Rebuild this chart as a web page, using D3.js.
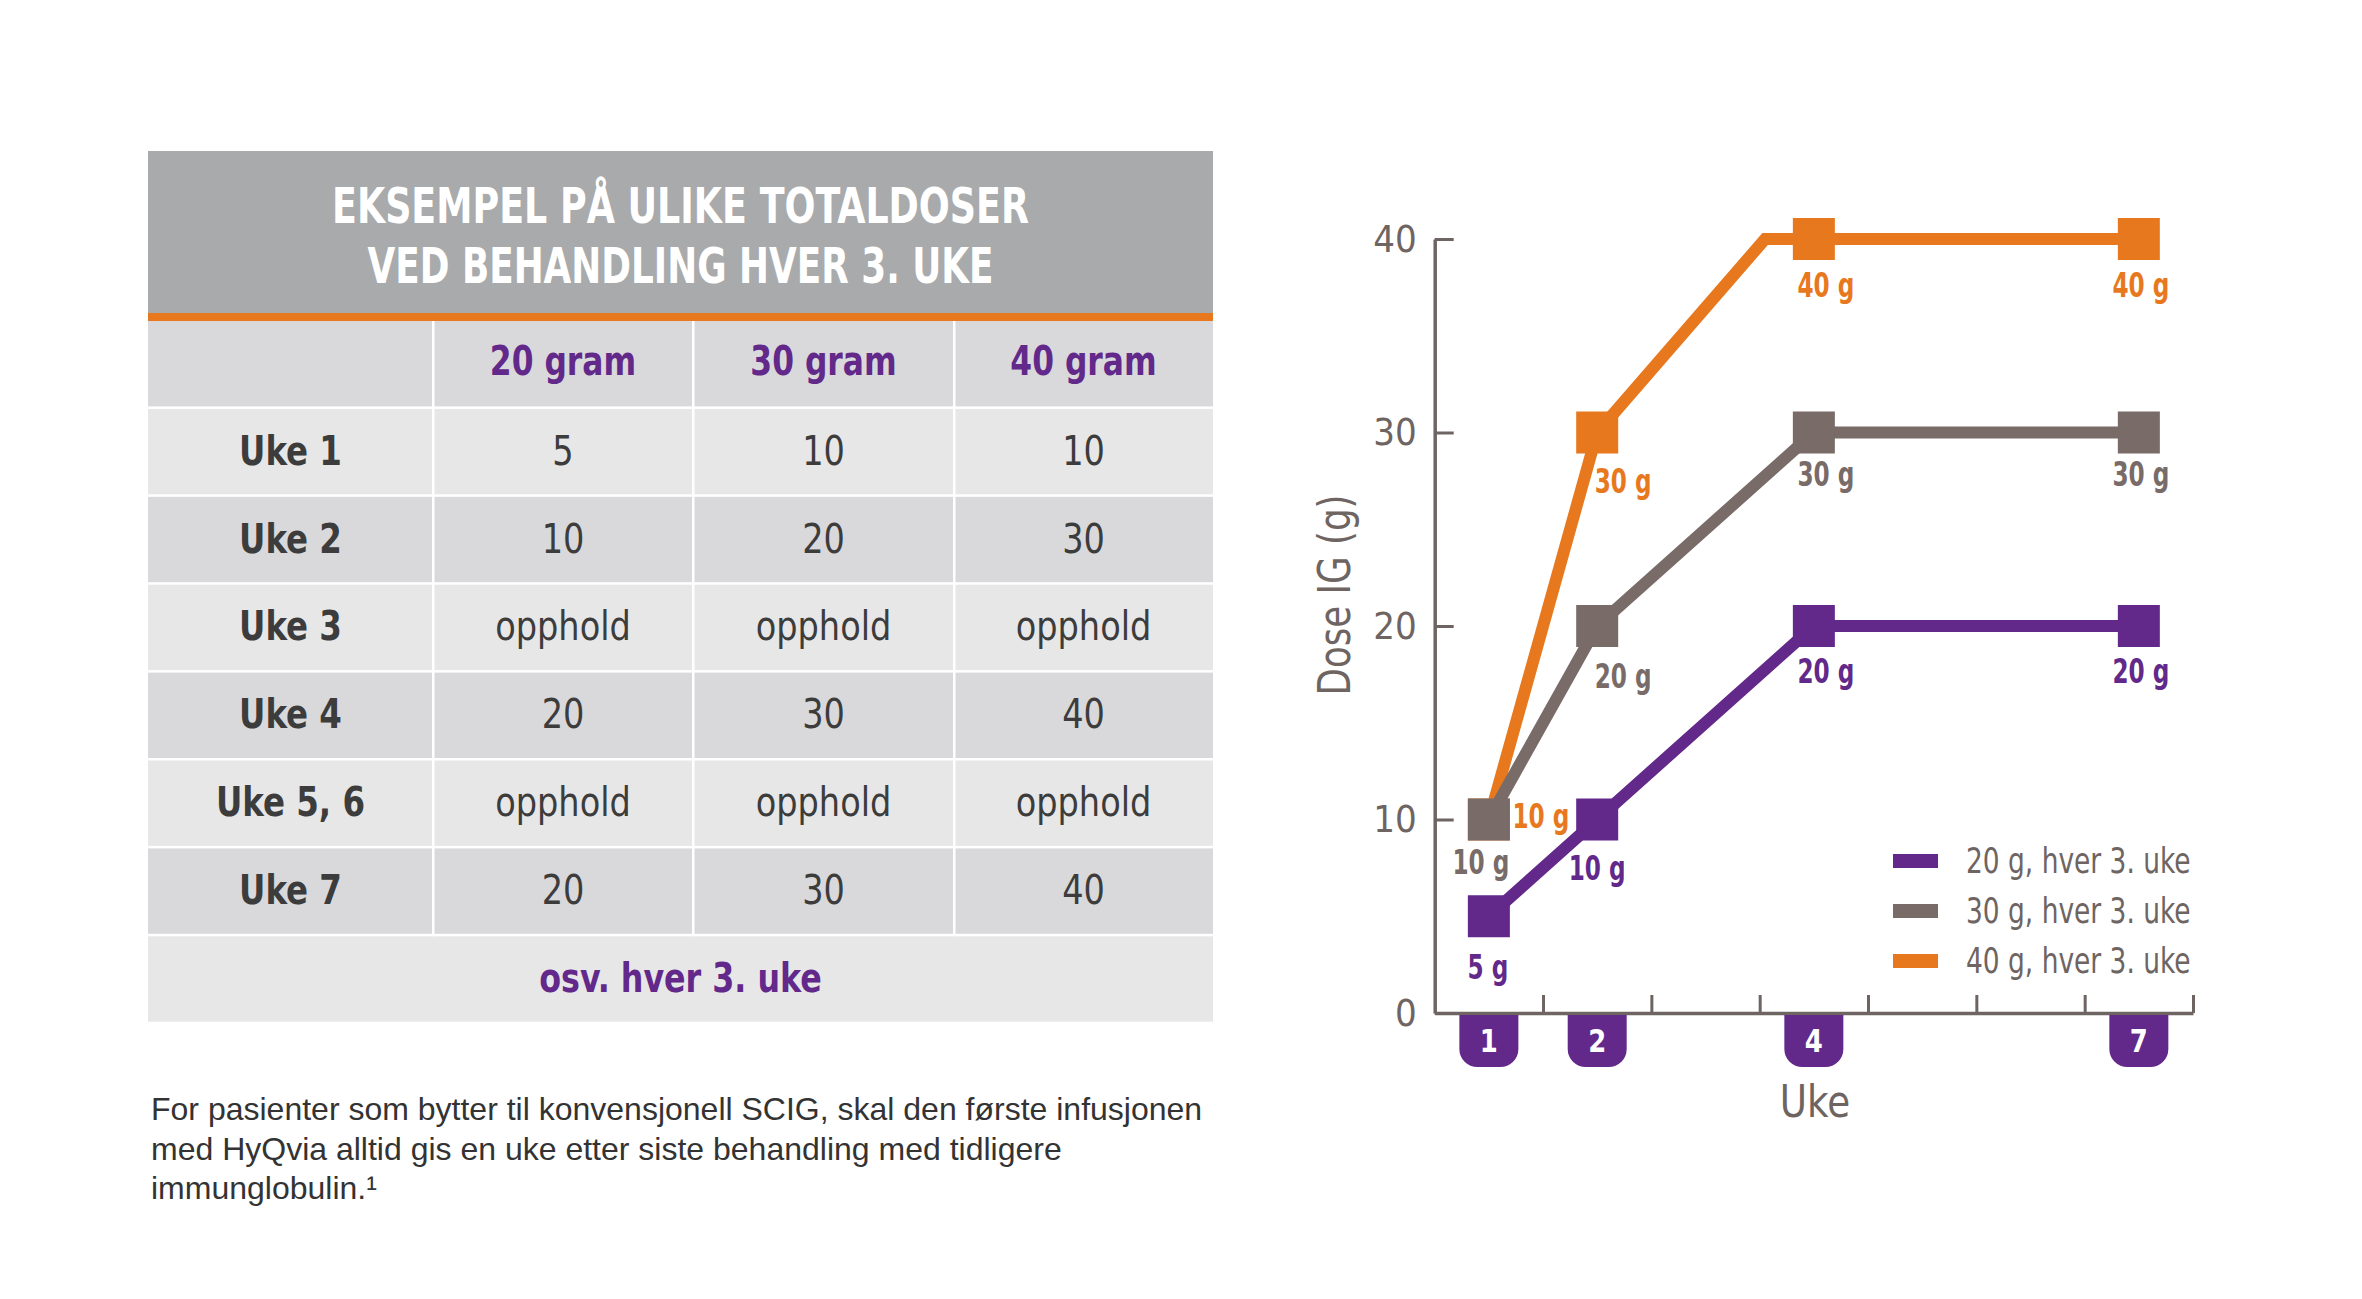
<!DOCTYPE html>
<html><head><meta charset="utf-8">
<script src="https://cdn.jsdelivr.net/npm/d3@7"></script>
<style>html,body{margin:0;padding:0;background:#fff;} svg{display:block}</style>
</head><body>
<svg id="c" width="2362" height="1299"></svg>
<script>
// ---------- DATA ----------
const tableTitle = ["EKSEMPEL PÅ ULIKE TOTALDOSER", "VED BEHANDLING HVER 3. UKE"];
const tableColumns = ["20 gram", "30 gram", "40 gram"];
const tableRowLabels = ["Uke 1", "Uke 2", "Uke 3", "Uke 4", "Uke 5, 6", "Uke 7"];
const col20 = ["5", "10", "opphold", "20", "opphold", "20"];
const col30 = ["10", "20", "opphold", "30", "opphold", "30"];
const col40 = ["10", "30", "opphold", "40", "opphold", "40"];
const tableFooter = "osv. hver 3. uke";
const footnote = [
  "For pasienter som bytter til konvensjonell SCIG, skal den første infusjonen",
  "med HyQvia alltid gis en uke etter siste behandling med tidligere",
  "immunglobulin.\u00b9"
];

const weeks = [1, 2, 4, 7];
const seriesNames = ["20 g, hver 3. uke", "30 g, hver 3. uke", "40 g, hver 3. uke"];
const dose20 = [5, 10, 20, 20];
const dose30 = [10, 20, 30, 30];
const dose40 = [10, 30, 40, 40];
// the 40 g line reaches 40 before week 4 (unmarked bend point)
const dose40BendWeek = 3.55;
const dose40BendValue = 40;
const yTicks = [0, 10, 20, 30, 40];
const xTickWeeks = [1, 2, 3, 4, 5, 6, 7];
const badgeWeeks = [1, 2, 4, 7];
const yTitle = "Dose IG (g)";
const xTitle = "Uke";

// ---------- STYLE / LAYOUT ----------
const NARROW = "'Liberation Sans Narrow','DejaVu Sans Condensed','Arial Narrow',sans-serif";
const SANS = "'Liberation Sans',Arial,Helvetica,sans-serif";
const C = {
  purple: "#62288a", gray: "#786b68", orange: "#e8781e", axis: "#6e6462",
  titleBg: "#a9aaac", rowDark: "#d9d9db", rowLight: "#e7e7e8", text: "#3c3c3c"
};
const seriesColors = [C.purple, C.gray, C.orange];
// label offsets (px) relative to marker centre: [dx, dy baseline]
const labelOffsets = [
  [[-1, 63], [0, 60], [12, 57], [2, 57]],
  [[-8, 54], [26, 62], [12, 53], [2, 53]],
  [[52, 8], [26, 60], [12, 58], [2, 58]]
];
// squeeze text horizontally to mimic a condensed face
function condense(sel, f) {
  sel.each(function () {
    const L = this.getComputedTextLength();
    d3.select(this).attr("textLength", L * f).attr("lengthAdjust", "spacingAndGlyphs");
  });
  return sel;
}

const svg = d3.select("#c");

// ---------- TABLE ----------
const T = { left: 148, right: 1213, top: 151, titleBottom: 313, orangeH: 8, rowTop: 321, rowH: 87.9, gap: 2.5 };
const colEdges = [148, 433, 693, 954, 1213];
const tg = svg.append("g");
tg.append("rect").attr("x", T.left).attr("y", T.top).attr("width", T.right - T.left)
  .attr("height", T.titleBottom - T.top).attr("fill", C.titleBg);
tg.append("rect").attr("x", T.left).attr("y", T.titleBottom).attr("width", T.right - T.left)
  .attr("height", T.orangeH).attr("fill", C.orange);
const titleWidths = [697, 626];
const titleBase = [223, 283];
tg.selectAll("text.title").data(tableTitle).join("text")
  .attr("x", (T.left + T.right) / 2).attr("y", (d, i) => titleBase[i])
  .attr("text-anchor", "middle").attr("fill", "#fff")
  .attr("font-family", NARROW).attr("font-weight", "bold").attr("font-size", 50)
  .attr("textLength", (d, i) => titleWidths[i]).attr("lengthAdjust", "spacingAndGlyphs")
  .text(d => d);

const nRows = 2 + tableRowLabels.length; // header + data + footer
const rowY = d3.scaleLinear().domain([0, nRows]).range([T.rowTop, T.rowTop + nRows * T.rowH]);
for (let r = 0; r < nRows; r++) {
  tg.append("rect").attr("x", T.left).attr("y", rowY(r)).attr("width", T.right - T.left)
    .attr("height", T.rowH - T.gap).attr("fill", r % 2 === 0 ? C.rowDark : C.rowLight);
}
colEdges.slice(1, -1).forEach(xe => {
  tg.append("rect").attr("x", xe - 1).attr("y", rowY(0)).attr("width", 2.5)
    .attr("height", rowY(nRows - 1) - rowY(0)).attr("fill", "#fff");
});
const colCenter = i => (colEdges[i] + colEdges[i + 1]) / 2;
const rowBase = r => rowY(r) + (T.rowH - T.gap) / 2 + 13;
condense(tg.selectAll("text.colh").data(tableColumns).join("text")
  .attr("x", (d, i) => colCenter(i + 1)).attr("y", rowBase(0) - 2)
  .attr("text-anchor", "middle").attr("fill", C.purple)
  .attr("font-family", NARROW).attr("font-weight", "bold").attr("font-size", 41).text(d => d), 0.85);
condense(tg.selectAll("text.rowl").data(tableRowLabels).join("text")
  .attr("x", colCenter(0)).attr("y", (d, i) => rowBase(i + 1))
  .attr("text-anchor", "middle").attr("fill", C.text)
  .attr("font-family", NARROW).attr("font-weight", "bold").attr("font-size", 41).text(d => d), 0.88);
[col20, col30, col40].forEach((col, ci) => {
  condense(tg.selectAll("text.v" + ci).data(col).join("text")
    .attr("x", colCenter(ci + 1)).attr("y", (d, i) => rowBase(i + 1))
    .attr("text-anchor", "middle").attr("fill", C.text)
    .attr("font-family", NARROW).attr("font-size", 41).text(d => d), 0.91);
});
condense(tg.append("text").attr("x", (T.left + T.right) / 2).attr("y", rowBase(nRows - 1))
  .attr("text-anchor", "middle").attr("fill", C.purple)
  .attr("font-family", NARROW).attr("font-weight", "bold").attr("font-size", 41).text(tableFooter), 0.86);

// footnote
svg.selectAll("text.fn").data(footnote).join("text")
  .attr("x", 151).attr("y", (d, i) => 1120 + i * 39.5)
  .attr("fill", "#333").attr("font-family", SANS).attr("font-size", 32).text(d => d);

// ---------- CHART ----------
const x = d3.scaleLinear().domain([0, 7]).range([1434.7, 2193]);
const y = d3.scaleLinear().domain([0, 40]).range([1013, 239]);
const wx = w => x(w - 0.5);
const cg = svg.append("g");

const yAxis = cg.append("g").attr("transform", `translate(${x(0)},0)`)
  .call(d3.axisLeft(y).tickValues(yTicks).tickSizeInner(-19).tickSizeOuter(0).tickPadding(18).tickFormat(d3.format("d")));
yAxis.select(".domain").attr("stroke", C.axis).attr("stroke-width", 3.5);
yAxis.selectAll(".tick line").attr("stroke", C.axis).attr("stroke-width", 3);
yAxis.selectAll(".tick text").attr("fill", C.axis).attr("font-family", NARROW).attr("font-size", 38);

const xAxis = cg.append("g").attr("transform", `translate(0,${y(0)})`)
  .call(d3.axisBottom(x).tickValues(xTickWeeks).tickSizeInner(-18).tickSizeOuter(0).tickFormat(""));
xAxis.select(".domain").attr("stroke", C.axis).attr("stroke-width", 3.5);
xAxis.selectAll(".tick line").attr("stroke", C.axis).attr("stroke-width", 3);

// badges
const bw = 59, bh = 52, br = 18, btop = 1015;
const badgePath = cx => {
  const l = cx - bw / 2, r = cx + bw / 2, b = btop + bh;
  return `M${l},${btop}H${r}V${b - br}A${br},${br} 0 0 1 ${r - br},${b}H${l + br}A${br},${br} 0 0 1 ${l},${b - br}Z`;
};
cg.selectAll("path.badge").data(badgeWeeks).join("path")
  .attr("d", d => badgePath(wx(d))).attr("fill", C.purple);
condense(cg.selectAll("text.badge").data(badgeWeeks).join("text")
  .attr("x", d => wx(d)).attr("y", 1052).attr("text-anchor", "middle").attr("fill", "#fff")
  .attr("font-family", NARROW).attr("font-weight", "bold").attr("font-size", 32).text(d => d), 0.9);

// axis titles
condense(cg.append("text").attr("transform", `translate(1350,595) rotate(-90)`)
  .attr("text-anchor", "middle").attr("fill", C.axis).attr("font-family", NARROW).attr("font-size", 45).text(yTitle), 0.88);
condense(cg.append("text").attr("x", 1815).attr("y", 1117).attr("text-anchor", "middle").attr("fill", C.axis)
  .attr("font-family", NARROW).attr("font-size", 45).text(xTitle), 0.92);

// series
const series = [
  { pts: weeks.map((w, i) => ({ w, v: dose20[i] })) },
  { pts: weeks.map((w, i) => ({ w, v: dose30[i] })) },
  { pts: weeks.map((w, i) => ({ w, v: dose40[i] })) }
];
series[2].linePts = [series[2].pts[0], series[2].pts[1], { w: dose40BendWeek, v: dose40BendValue }, ...series[2].pts.slice(2)];
const line = d3.line().x(d => wx(d.w)).y(d => y(d.v));
const ms = 42;
[2, 1, 0].forEach(si => {
  const s = series[si], col = seriesColors[si];
  const g = cg.append("g");
  g.append("path").attr("d", line(s.linePts || s.pts)).attr("fill", "none")
    .attr("stroke", col).attr("stroke-width", 12).attr("stroke-linejoin", "miter");
  g.selectAll("rect").data(s.pts).join("rect")
    .attr("x", d => wx(d.w) - ms / 2).attr("y", d => y(d.v) - ms / 2)
    .attr("width", ms).attr("height", ms).attr("fill", col);
});
[2, 1, 0].forEach(si => {
  const s = series[si], col = seriesColors[si];
  condense(cg.append("g").selectAll("text").data(s.pts).join("text")
    .attr("x", (d, i) => wx(d.w) + labelOffsets[si][i][0])
    .attr("y", (d, i) => y(d.v) + labelOffsets[si][i][1])
    .attr("text-anchor", "middle").attr("fill", col)
    .attr("font-family", NARROW).attr("font-weight", "bold").attr("font-size", 33)
    .text(d => d.v + " g"), 0.78);
});

// legend
const lg = cg.append("g");
const legY = d3.scalePoint().domain(seriesNames).range([861, 961]);
seriesNames.forEach((n, i) => {
  lg.append("rect").attr("x", 1893).attr("y", legY(n) - 7).attr("width", 45).attr("height", 14).attr("fill", seriesColors[i]);
  condense(lg.append("text").attr("x", 1966).attr("y", legY(n) + 12).attr("fill", C.axis)
    .attr("font-family", NARROW).attr("font-size", 35).text(n), 0.84);
});
</script>
</body></html>
